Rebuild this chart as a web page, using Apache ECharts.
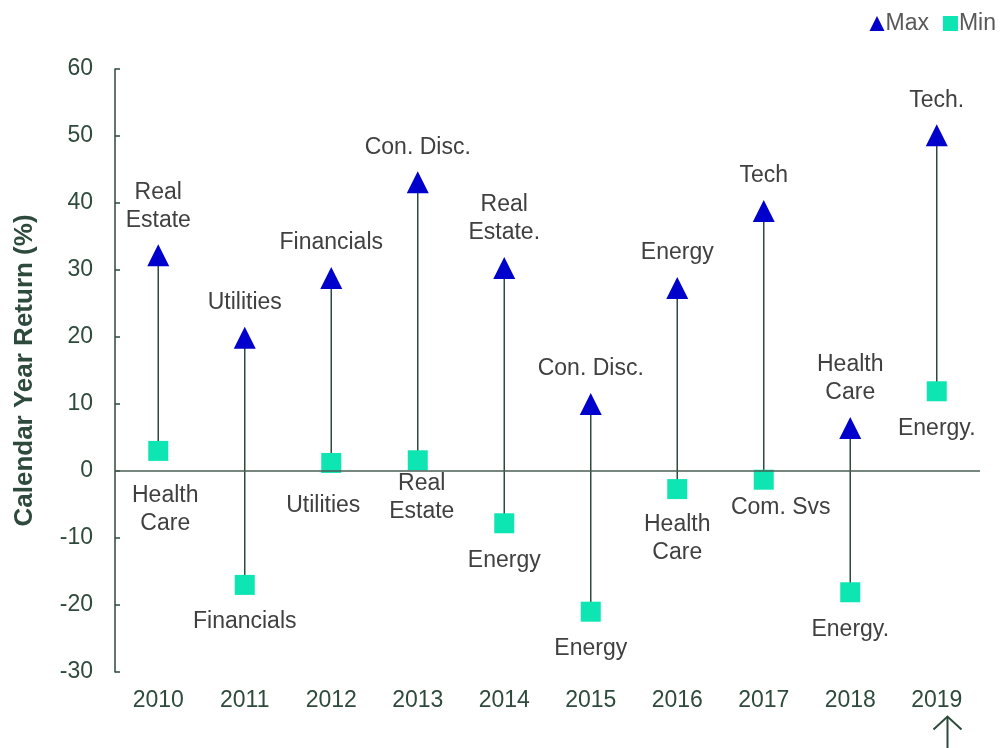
<!DOCTYPE html>
<html>
<head>
<meta charset="utf-8">
<script src="https://cdn.jsdelivr.net/npm/echarts@6/dist/echarts.min.js"></script>
<style>
  html, body { margin: 0; padding: 0; background: #fff; }
  #chart { width: 1001px; height: 748px; }
</style>
</head>
<body>
<div id="chart"></div>
<script>
// calendar years and best / worst sector returns (%)
const years = ['2010', '2011', '2012', '2013', '2014', '2015', '2016', '2017', '2018', '2019'];
const maxReturns = [32.2, 19.9, 28.8, 43.1, 30.3, 10.0, 27.3, 38.8, 6.4, 50.1];
const minReturns = [3.0, -17.0, 1.2, 1.6, -7.8, -21.0, -2.7, -1.3, -18.1, 11.9];
const maxSectors = ['Real\nEstate', 'Utilities', 'Financials', 'Con. Disc.', 'Real\nEstate.', 'Con. Disc.', 'Energy', 'Tech', 'Health\nCare', 'Tech.'];
const minSectors = ['Health\nCare', 'Financials', 'Utilities', 'Real\nEstate', 'Energy', 'Energy', 'Health\nCare', 'Com. Svs', 'Energy.', 'Energy.'];
const yTicks = { min: -30, max: 60, step: 10 };

const FONT = 'Liberation Sans, Arial, sans-serif';
const axisColor = '#2d4a3c';
const labelColor = '#404040';

// a few min labels sit a bit off the default spot
const minOffsets = [[7, 8], [0, 0], [-8, 6], [4, -14], [0, 0], [0, 0], [0, -1], [17, -9], [0, 0], [0, 0]];

var chartDom = document.getElementById('chart');
var myChart = echarts.init(chartDom);

const maxData = maxReturns.map((v, i) => ({
  value: [years[i], v],
  label: { formatter: maxSectors[i] }
}));
const minData = minReturns.map((v, i) => ({
  value: [years[i], v],
  label: { formatter: minSectors[i], offset: minOffsets[i] }
}));
const rangeData = years.map((y, i) => [y, minReturns[i], maxReturns[i]]);

var option = {
  animation: false,
  textStyle: { fontFamily: FONT },
  legend: {
    data: [
      { name: 'Max', icon: 'triangle' },
      { name: 'Min', icon: 'rect' }
    ],
    right: 0,
    top: 7,
    itemWidth: 15,
    itemHeight: 15,
    itemGap: 14,
    textStyle: { fontSize: 23, color: '#595959', fontFamily: FONT, padding: [0, 0, 0, -4] }
  },
  grid: { left: 115, right: 21, top: 69, bottom: 76 },
  xAxis: {
    type: 'category',
    data: years,
    axisLine: { show: false },
    axisTick: { show: false },
    axisLabel: { fontSize: 23, color: axisColor, margin: 17, fontFamily: FONT }
  },
  yAxis: {
    type: 'value',
    min: yTicks.min,
    max: yTicks.max,
    interval: yTicks.step,
    name: 'Calendar Year Return (%)',
    nameLocation: 'middle',
    nameGap: 77,
    nameTextStyle: { fontSize: 26, fontWeight: 'bold', color: axisColor, fontFamily: FONT },
    axisLine: { show: true, lineStyle: { color: axisColor, width: 1.5 } },
    axisTick: { show: true, inside: true, length: 5, lineStyle: { color: axisColor, width: 1.5 } },
    axisLabel: { fontSize: 23, color: axisColor, margin: 22, fontFamily: FONT },
    splitLine: { show: false }
  },
  series: [
    {
      name: 'range',
      type: 'custom',
      data: rangeData,
      encode: { x: 0, y: [1, 2] },
      renderItem: function (params, api) {
        const lo = api.coord([api.value(0), api.value(1)]);
        const hi = api.coord([api.value(0), api.value(2)]);
        return {
          type: 'line',
          shape: { x1: lo[0], y1: lo[1], x2: hi[0], y2: hi[1] },
          style: { stroke: axisColor, lineWidth: 1.5 }
        };
      },
      markLine: {
        silent: true,
        symbol: 'none',
        label: { show: false },
        lineStyle: { color: '#4a5e54', width: 1.5, type: 'solid' },
        data: [{ yAxis: 0 }]
      },
      z: 1
    },
    {
      name: 'Max',
      type: 'scatter',
      symbol: 'triangle',
      symbolSize: 22,
      itemStyle: { color: '#0000cc', opacity: 1 },
      label: {
        show: true,
        position: 'top',
        distance: 10,
        fontSize: 23,
        lineHeight: 28,
        color: labelColor,
        fontFamily: FONT
      },
      data: maxData,
      z: 3
    },
    {
      name: 'Min',
      type: 'scatter',
      symbol: 'rect',
      symbolSize: 20,
      itemStyle: { color: '#0de6b2', opacity: 1 },
      label: {
        show: true,
        position: 'bottom',
        distance: 13,
        fontSize: 23,
        lineHeight: 28,
        color: labelColor,
        fontFamily: FONT
      },
      data: minData,
      z: 3
    }
  ],
  graphic: [
    {
      type: 'group',
      left: 931,
      top: 714,
      children: [
        { type: 'line', shape: { x1: 14, y1: 2, x2: 14, y2: 40 }, style: { stroke: axisColor, lineWidth: 2 } },
        { type: 'polyline', shape: { points: [[0, 14], [14, 1], [28, 14]] }, style: { stroke: axisColor, lineWidth: 2, fill: null } }
      ]
    }
  ]
};

option && myChart.setOption(option);
</script>
</body>
</html>
